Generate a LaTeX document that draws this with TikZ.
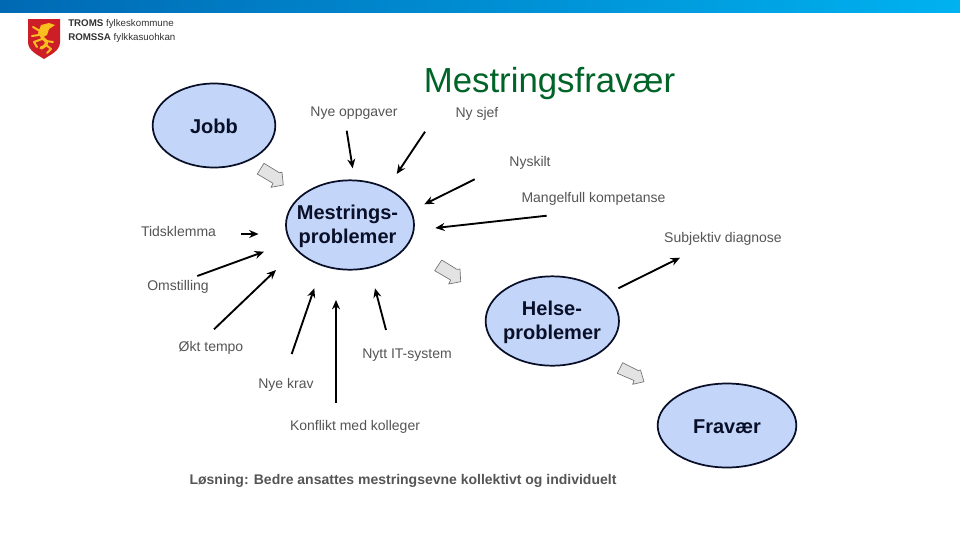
\documentclass[tikz,border=0pt]{standalone}
\usepackage{fontspec}
\setmainfont{Liberation Sans}
\usetikzlibrary{arrows.meta,shapes.geometric}
\definecolor{bubble}{RGB}{195,214,250}
\definecolor{ink}{RGB}{10,15,40}
\definecolor{titlegreen}{RGB}{0,100,40}
\definecolor{lbl}{RGB}{85,85,85}
\definecolor{barL}{RGB}{0,105,180}
\definecolor{barR}{RGB}{0,178,240}
\definecolor{shieldred}{RGB}{205,30,40}
\definecolor{lion}{RGB}{250,190,30}
\tikzset{
  x=0.75pt,y=-0.75pt,
  bubbletxt/.style={font=\fontsize{15}{17.7}\selectfont\bfseries,text=ink,align=center,inner sep=0pt},
  bub/.style={ellipse,draw=ink,line width=1.3pt,fill=bubble,inner sep=0pt},
  lab/.style={font=\fontsize{10.5}{12}\selectfont,text=lbl,inner sep=0pt},
  conn/.style={draw=black,line width=1.4pt,-{Stealth[length=7pt,width=6pt]}},
  fat/.style={draw=black!55,line width=0.5pt,fill=black!11,line join=round},
  lionline/.style={draw=lion,line width=1.5pt,line cap=round,line join=round}
}
\begin{document}
\begin{tikzpicture}
\useasboundingbox (0,0) rectangle (960,540);
\fill[white] (0,0) rectangle (960,540);
\shade[left color=barL,right color=barR] (0,0) rectangle (960,12);
% logo
\path[fill=shieldred] (28,19) -- (60,19) -- (60,42) .. controls (60,51) and (50,55) .. (44,59) .. controls (38,55) and (28,51) .. (28,42) -- cycle;
\path[fill=lion] (41,25) -- (49,23) -- (55,25) -- (49,29) -- (47,35) -- (41,38) -- (38,33) -- cycle;
\draw[lionline,line width=2.4pt] (47,29) .. controls (40,33) and (41,38) .. (46,41) .. controls (48,44) and (44,47) .. (41,48);
\draw[lionline] (40,31) -- (33,27);
\draw[lionline] (39,35) -- (32,36);
\draw[lionline] (42,39) -- (34,42) -- (37,47);
\draw[lionline] (46,41) -- (53,42);
\draw[lionline] (46,45) -- (51,49) -- (47,53);
\node[anchor=west,inner sep=0pt,font=\fontsize{7.3}{8}\selectfont,text=black!80] (lg1) at (68,23.5) {\textbf{TROMS} fylkeskommune};
\node[anchor=west,inner sep=0pt,font=\fontsize{7.3}{8}\selectfont,text=black!80] (lg2) at (68,37.5) {\textbf{ROMSSA} fylkkasuohkan};
% title
\node[font=\fontsize{26.1}{28}\selectfont,text=titlegreen,inner sep=0pt] (title) at (549.5,83.5) {Mestringsfravær};
% bubbles
\node[bub,minimum width=92pt,minimum height=63pt] (jobb) at (214,125.5) {};
\node[bubbletxt] (jobbt) at (214,126.5) {Jobb};
\node[bub,minimum width=96pt,minimum height=67pt] (mp) at (350,225) {};
\node[bubbletxt] (mpt) at (347.5,226.5) {Mestrings-\\problemer};
\node[bub,minimum width=100pt,minimum height=67pt] (hp) at (552.3,321) {};
\node[bubbletxt] (hpt) at (552,322.5) {Helse-\\problemer};
\node[bub,minimum width=104pt,minimum height=63pt] (fr) at (727,425.5) {};
\node[bubbletxt] (frt) at (727,426.5) {Fravær};
% labels
\node[lab] (a) at (354,113) {Nye oppgaver};
\node[lab] (b) at (477,114) {Ny sjef};
\node[lab] (c) at (530,163) {Nyskilt};
\node[lab] (d) at (593.5,199) {Mangelfull kompetanse};
\node[lab] (e) at (723,239) {Subjektiv diagnose};
\node[lab] (f) at (178.5,231) {Tidsklemma};
\node[lab] (g) at (178,287) {Omstilling};
\node[lab] (h) at (211,348) {Økt tempo};
\node[lab] (i) at (407,355) {Nytt IT-system};
\node[lab] (j) at (286,385) {Nye krav};
\node[lab] (k) at (355,427) {Konflikt med kolleger};
\node[font=\fontsize{10.5}{12}\selectfont\bfseries,text=lbl,inner sep=0pt] (l) at (403,481) {Løsning: Bedre ansattes mestringsevne kollektivt og individuelt};
% connectors
\coordinate (a1) at (346.7,130.7); \coordinate (a2) at (352.7,168.3);
\coordinate (b1) at (425,131.7); \coordinate (b2) at (396.7,174);
\coordinate (c1) at (474.7,179.3); \coordinate (c2) at (424.3,204.3);
\coordinate (d1) at (546.7,215.7); \coordinate (d2) at (435.3,228);
\coordinate (e1) at (618.3,288.3); \coordinate (e2) at (680,257.7);
\coordinate (f1) at (241,234); \coordinate (f2) at (258.5,234);
\coordinate (g1) at (197.3,276); \coordinate (g2) at (264,251.7);
\coordinate (h1) at (214,329.3); \coordinate (h2) at (276,270);
\coordinate (i1) at (291.7,354); \coordinate (i2) at (314.3,288.3);
\coordinate (j1) at (386,330); \coordinate (j2) at (375,288.3);
\coordinate (m1) at (336,403); \coordinate (m2) at (336,300);
\foreach \n in {a,b,c,d,e,f,g,h,i,j,m}{\draw[conn] (\n1) -- (\n2);}
% block arrows
\draw[fat] (264,163.3) -- (279.3,172.7) -- (282,172.3) -- (283.3,185) -- (271,187.3) -- (273,183.3) -- (257.3,174) -- cycle;
\draw[fat] (441.7,260) -- (457,269.4) -- (460,269) -- (460.7,281.7) -- (448.7,284) -- (450.7,280) -- (434.7,270.7) -- cycle;
\draw[fat] (622.7,362.7) -- (638,370.5) -- (640.5,370) -- (644,381.7) -- (632.7,384.3) -- (634,380.5) -- (617.3,373.3) -- cycle;
\end{tikzpicture}
\end{document}
